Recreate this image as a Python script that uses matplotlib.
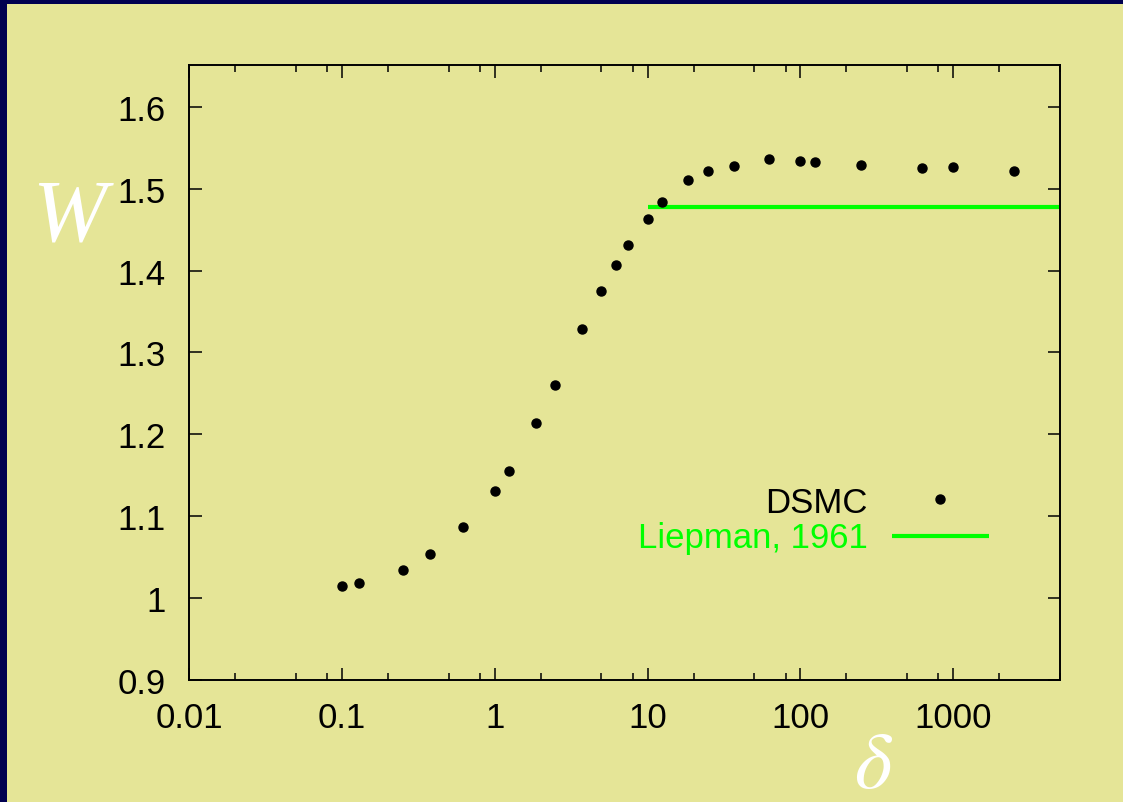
import matplotlib
matplotlib.use("Agg")
import matplotlib.pyplot as plt
from matplotlib.patches import Rectangle
from matplotlib.ticker import FixedLocator, NullFormatter

# Data
delta = [0.1, 0.13, 0.25, 0.375, 0.62, 1.0, 1.25, 1.85, 2.5, 3.7, 5.0, 6.2,
         7.4, 10, 12.5, 18.5, 25, 37, 62, 100, 125, 250, 625, 1000, 2500]
W = [1.015, 1.018, 1.034, 1.054, 1.087, 1.131, 1.155, 1.214, 1.260, 1.329,
     1.375, 1.407, 1.431, 1.463, 1.484, 1.510, 1.522, 1.528, 1.536, 1.534,
     1.533, 1.529, 1.525, 1.527, 1.522]
liep_x = [10, 5000]
liep_y = [1.477, 1.477]
xticks = [0.01, 0.1, 1, 10, 100, 1000]
xticklabels = ["0.01", "0.1", "1", "10", "100", "1000"]
yticks = [0.9, 1.0, 1.1, 1.2, 1.3, 1.4, 1.5, 1.6]
yticklabels = ["0.9", "1", "1.1", "1.2", "1.3", "1.4", "1.5", "1.6"]

BG = "#e5e597"
W_, H_ = 1123, 803
fig = plt.figure(figsize=(W_ / 100, H_ / 100), dpi=100)
fig.patch.set_facecolor("#000050")
fig.patches.append(Rectangle((7 / W_, 0), 1 - 7 / W_, 1 - 5 / H_,
                             transform=fig.transFigure, facecolor=BG,
                             edgecolor="none", zorder=-10))

ax = fig.add_axes([189 / W_, 1 - 681 / H_, (1060 - 189) / W_, (681 - 66) / H_])
ax.set_zorder(1)
ax.set_facecolor(BG)
ax.set_xscale("log")
ax.set_xlim(0.01, 5000)
ax.set_ylim(0.9, 1.651)

ax.plot(delta, W, "o", color="black", markersize=6.5, label="DSMC", zorder=3)
ax.plot(liep_x, liep_y, "-", color="#00ff00", lw=3, label="Liepman, 1961",
        zorder=2, solid_capstyle="butt")

ax.xaxis.set_major_locator(FixedLocator(xticks))
ax.set_xticklabels(xticklabels)
minors = [m * d for d in [0.01, 0.1, 1, 10, 100, 1000] for m in (2, 5, 8)]
ax.xaxis.set_minor_locator(FixedLocator(minors))
ax.xaxis.set_minor_formatter(NullFormatter())
ax.set_yticks(yticks)
ax.set_yticklabels(yticklabels)

fam = ["Liberation Sans", "DejaVu Sans"]
FS = 25
for lab in ax.get_xticklabels() + ax.get_yticklabels():
    lab.set_fontfamily(fam)
    lab.set_fontsize(FS)
ax.tick_params(which="major", direction="in", length=9, width=1.1,
               top=True, right=True)
ax.tick_params(which="minor", direction="in", length=5, width=1.1,
               top=True, right=True)
ax.tick_params(axis="x", which="major", pad=15)
ax.tick_params(axis="y", which="major", pad=17)
for s in ax.spines.values():
    s.set_linewidth(1.4)

# Legend (gnuplot style)
leg = fig.add_axes([0, 0, 1, 1], facecolor="none")
leg.set_zorder(2)
leg.set_xlim(0, W_)
leg.set_ylim(H_, 0)
leg.axis("off")
leg.text(868, 513, "DSMC", ha="right", va="baseline",
         fontsize=FS, family=fam, color="black")
leg.text(868, 548, "Liepman, 1961", ha="right", va="baseline",
         fontsize=FS, family=fam, color="#00ff00")
leg.plot([940], [500], "o", color="black", markersize=6.5)
leg.plot([892, 989], [537, 537], "-", color="#00ff00", lw=3,
         solid_capstyle="butt")

# Axis labels
fig.text(69 / W_, 1 - 219 / H_, "W", ha="center", va="center", fontsize=64,
         family=["Liberation Serif"], style="italic", color="white")
fig.text(874 / W_, 1 - 766 / H_, r"$\delta$", ha="center", va="center",
         fontsize=58, color="white", math_fontfamily="stix")

fig.savefig("out.png", dpi=100, facecolor=fig.get_facecolor())
